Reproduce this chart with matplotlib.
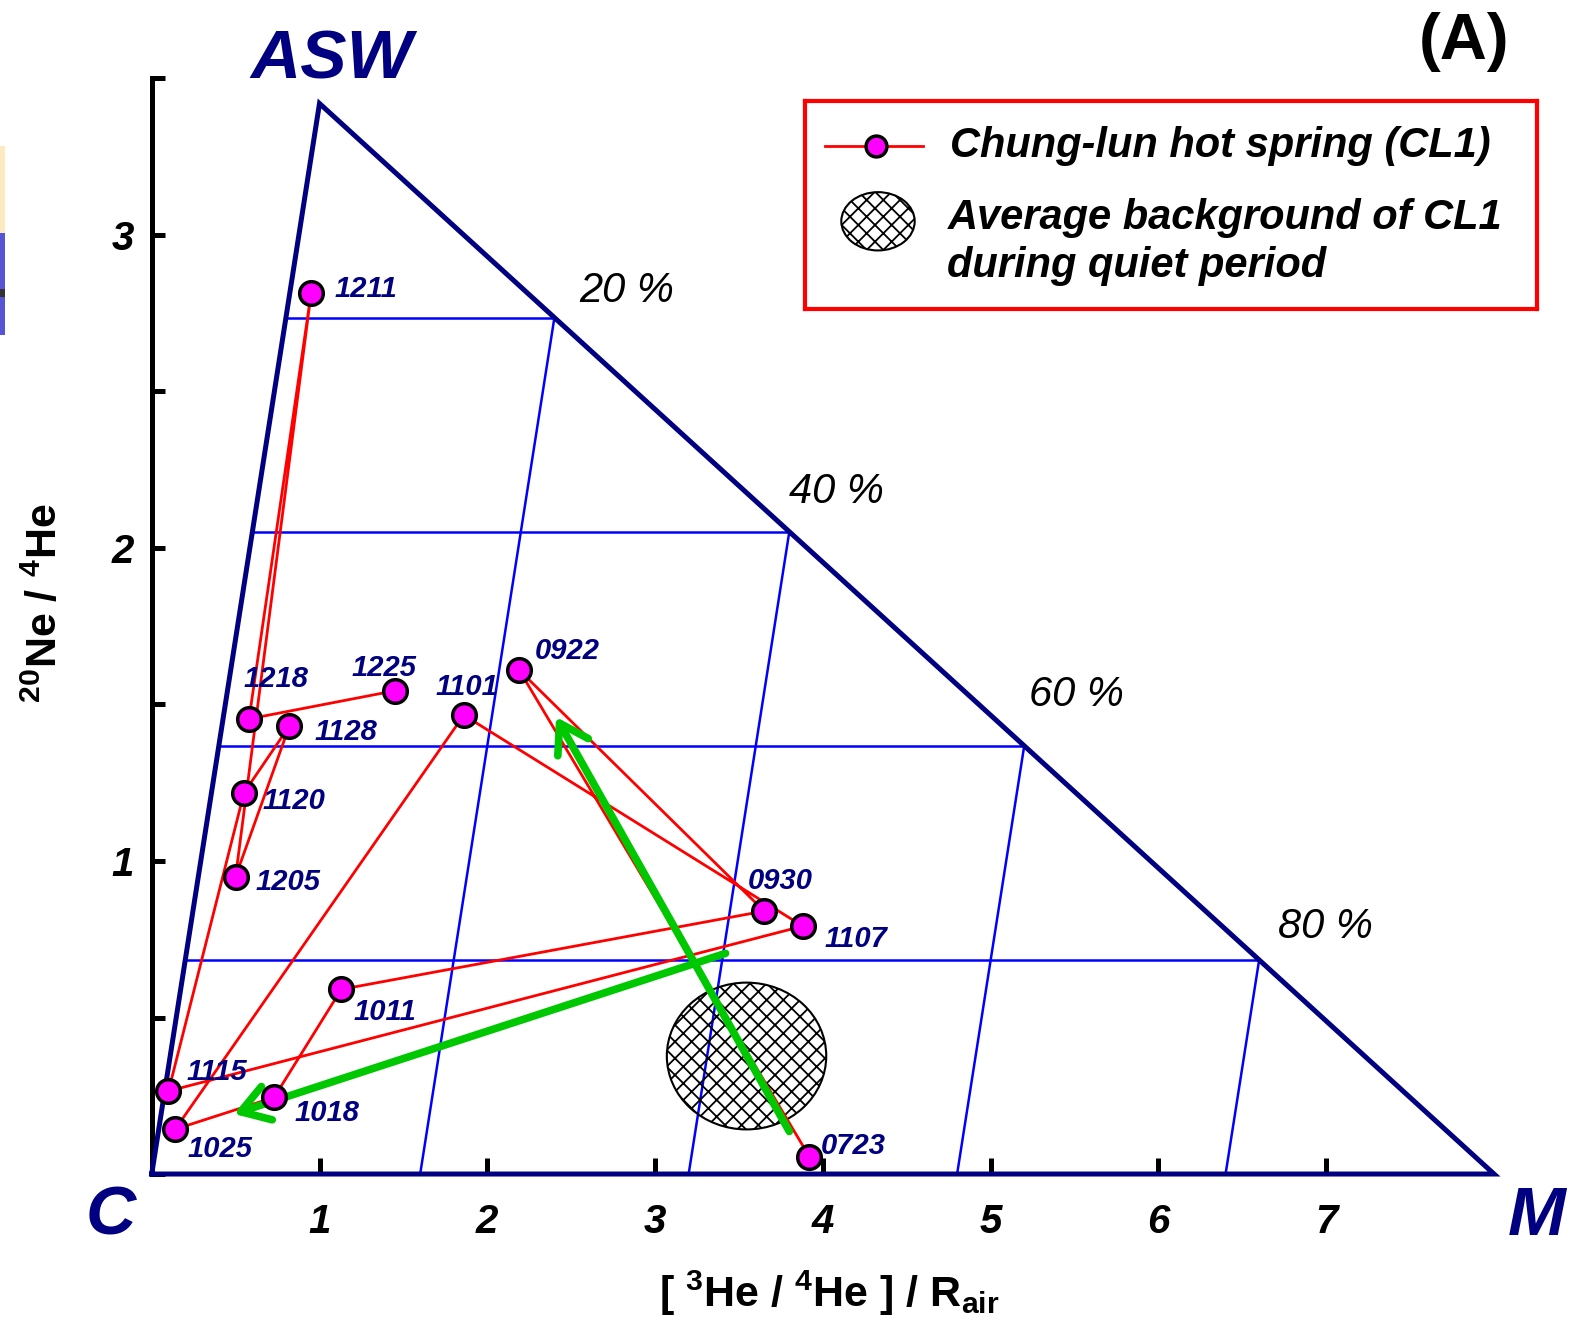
import matplotlib
matplotlib.use('Agg')
import matplotlib.pyplot as plt
from matplotlib.patches import Ellipse, Rectangle
from matplotlib.lines import Line2D

plt.rcParams['font.family'] = ['Liberation Sans', 'DejaVu Sans']
plt.rcParams['mathtext.fontset'] = 'custom'
plt.rcParams['mathtext.rm'] = 'Liberation Sans:bold'
plt.rcParams['mathtext.it'] = 'Liberation Sans:bold:italic'
plt.rcParams['mathtext.bf'] = 'Liberation Sans:bold'
plt.rcParams['mathtext.default'] = 'rm'
plt.rcParams['hatch.linewidth'] = 1.3

##### data: sampling dates of CL1 in time order
dates = ['0723', '0922', '0930', '1011', '1018', '1025', '1101', '1107',
         '1115', '1120', '1128', '1205', '1211', '1218', '1225']
he_ratio = [3.92, 2.19, 3.65, 1.13, 0.73, 0.14, 1.86, 3.88,
            0.10, 0.55, 0.82, 0.50, 0.95, 0.58, 1.45]
ne_he = [0.055, 1.61, 0.84, 0.59, 0.245, 0.143, 1.466, 0.792,
         0.265, 1.218, 1.431, 0.95, 2.814, 1.454, 1.544]
# label offsets (points) from each sample
label_dx = [8, 11, -12, 9, 15, 9, -20, 16, 13, 13, 18, 14, 17, -4, -31]
label_dy = [8, 14, 22, -16, -11, -14, 20, -9, 14, -6, -4, -4, 3, 29, 16]

# end members of the mixing triangle
corner_names = ['C', 'ASW', 'M']
corner_x = [0.0, 1.0, 8.0]
corner_y = [0.0, 3.42, 0.0]
fractions = [0.2, 0.4, 0.6, 0.8]
pct_labels = ['20 %', '40 %', '60 %', '80 %']
pct_x = [2.55, 3.80, 5.23, 6.71]
pct_y = [2.82, 2.18, 1.53, 0.79]

# average background (ellipse)
bg_x, bg_y, bg_w, bg_h = 3.545, 0.377, 0.95, 0.469

# trend arrows (start -> end)
arrow_start = [(3.80, 0.136), (3.42, 0.705)]
arrow_end = [(2.41, 1.46), (0.49, 0.192)]

navy = '#000080'
green = '#00c800'

fig = plt.figure(figsize=(15.77, 13.32), dpi=100)

# little coloured strip at the left border of the original picture
for y0, y1, c in [(146, 233, '#fdeac0'), (233, 289, '#5555d5'),
                  (289, 297, '#333333'), (297, 335, '#5555d5')]:
    fig.patches.append(Rectangle((0, 1 - y1 / 1332), 5 / 1577, (y1 - y0) / 1332,
                                 transform=fig.transFigure, color=c, lw=0))

ax = fig.add_axes([0.0962, 0.1186, 0.8512, 0.8225])
ax.set_xlim(0, 8)
ax.set_ylim(0, 3.5)

###########################################################################
# triangle and percentage grid
###########################################################################
ax.plot(corner_x + [corner_x[0]], corner_y + [corner_y[0]], color=navy, lw=3.6,
        solid_joinstyle='miter', clip_on=False, zorder=4)
ax_, ay_ = corner_x[1], corner_y[1]
mx_ = corner_x[2]
for f in fractions:
    yh = (1 - f) * ay_
    ax.plot([(1 - f) * ax_, ax_ + f * (mx_ - ax_)], [yh, yh], color='blue', lw=1.8, zorder=1)
    ax.plot([f * mx_, ax_ + f * (mx_ - ax_)], [0, yh], color='blue', lw=1.8, zorder=1)
for t, px, py in zip(pct_labels, pct_x, pct_y):
    ax.text(px, py, t, fontsize=30, style='italic', ha='left', va='center')

ax.text(-0.245, -0.137, 'C', fontsize=50, color=navy, weight='bold', style='italic',
        ha='center', va='center', clip_on=False)
ax.text(8.254, -0.137, 'M', fontsize=50, color=navy, weight='bold', style='italic',
        ha='center', va='center', clip_on=False)
ax.text(1.074, 3.558, 'ASW', fontsize=50, color=navy, weight='bold', style='italic',
        ha='center', va='center', clip_on=False)

###########################################################################
# background ellipse, data and arrows
###########################################################################
ax.add_patch(Ellipse((bg_x, bg_y), bg_w, bg_h, facecolor='none', edgecolor='black',
                     hatch='xx', lw=1.5, zorder=2))
ax.plot(he_ratio, ne_he, color='red', lw=2, zorder=3)
for s, e in zip(arrow_start, arrow_end):
    ax.annotate('', xy=e, xytext=s,
                arrowprops=dict(arrowstyle='->,head_length=0.55,head_width=0.35',
                                color=green, lw=5.5, mutation_scale=36,
                                shrinkA=0, shrinkB=0, capstyle='round'),
                zorder=5)
ax.plot(he_ratio, ne_he, 'o', mfc='magenta', mec='black', ms=17, mew=2.5, zorder=6,
        clip_on=False)
for d, x, y, dx, dy in zip(dates, he_ratio, ne_he, label_dx, label_dy):
    ax.annotate(d, (x, y), xytext=(dx, dy), textcoords='offset points',
                fontsize=21, color=navy, weight='bold', style='italic',
                ha='left', va='center', zorder=7)

###########################################################################
# axes
###########################################################################
for side in ['top', 'right', 'bottom']:
    ax.spines[side].set_visible(False)
ax.spines['left'].set_linewidth(3.6)
ax.set_xticks([1, 2, 3, 4, 5, 6, 7])
ax.set_yticks([0, 0.5, 1, 1.5, 2, 2.5, 3, 3.5])
ax.set_yticklabels(['', '', '1', '', '2', '', '3', ''])
ax.tick_params(axis='x', direction='in', length=11.5, width=3.6, pad=21, labelsize=29)
ax.tick_params(axis='y', direction='in', length=9.5, width=3.6, pad=13, labelsize=29)
for lab in ax.get_xticklabels() + ax.get_yticklabels():
    lab.set_fontweight('bold')
    lab.set_fontstyle('italic')

ax.set_xlabel(r'[ $^{3}$He / $^{4}$He ] / R$_{air}$', fontsize=31, weight='bold')
ax.xaxis.set_label_coords(0.505, -0.086)
ax.set_ylabel(r'$^{20}$Ne / $^{4}$He', fontsize=31, weight='bold')
ax.yaxis.set_label_coords(-0.064, 0.521)

fig.text(0.9285, 0.9683, '(A)', fontsize=47, weight='bold', ha='center', va='center')

###########################################################################
# legend box (drawn in pixel units of the original)
###########################################################################
lax = fig.add_axes([804.6 / 1577, 1 - 308.7 / 1332, 732.1 / 1577, 208.1 / 1332])
lax.set_xlim(804.6, 1536.7)
lax.set_ylim(308.7, 100.6)
lax.set_xticks([])
lax.set_yticks([])
for sp in lax.spines.values():
    sp.set_color('red')
    sp.set_linewidth(3)
lax.add_line(Line2D([824.7, 923.2], [145.8, 145.8], color='red', lw=2))
lax.plot([876], [145.8], 'o', mfc='magenta', mec='black', ms=15, mew=2.5)
lax.add_patch(Ellipse((878, 221.3), 73.4, 58.3, facecolor='none', edgecolor='black',
                      hatch='xx', lw=1.5))
lax.text(950.4, 145.8, 'Chung-lun hot spring (CL1)', fontsize=30, weight='bold',
         style='italic', va='center')
lax.text(947.4, 218.2, 'Average background of CL1', fontsize=30, weight='bold',
         style='italic', va='center')
lax.text(947.4, 266.5, 'during quiet period', fontsize=30, weight='bold',
         style='italic', va='center')

fig.savefig('out.png', dpi=100)
